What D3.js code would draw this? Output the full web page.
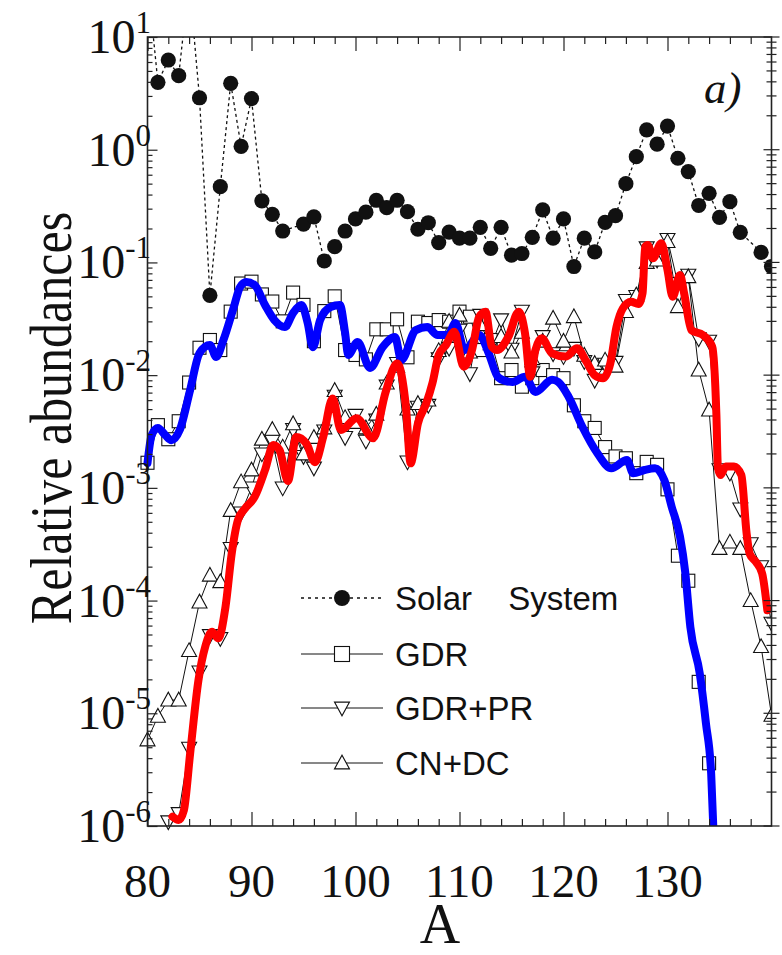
<!DOCTYPE html>
<html>
<head>
<meta charset="utf-8">
<script src="https://cdn.jsdelivr.net/npm/d3@7/dist/d3.min.js"></script>
<style>
  body { margin: 0; background: #fff; }
  svg { display: block; }
</style>
</head>
<body>
<svg id="chart" width="782" height="955"></svg>
<script>
// ---- data: relative abundances versus mass number A ----
const solarA = [80,81,82,83,84,85,86,87,88,89,90,91,92,93,95,96,97,98,99,100,101,102,103,104,105,106,107,108,109,110,111,112,113,114,115,116,117,118,119,120,121,122,123,124,125,126,127,128,129,130,131,132,133,134,135,136,137,139,140];
const solarV = [33,3.96,6.25,4.54,32,2.89,0.051,0.47,3.88,1.07,2.84,0.352,0.267,0.19,0.219,0.254,0.103,0.138,0.19,0.243,0.279,0.356,0.306,0.356,0.282,0.197,0.225,0.15,0.186,0.164,0.164,0.205,0.133,0.205,0.116,0.12,0.167,0.292,0.164,0.243,0.092,0.164,0.124,0.227,0.26,0.50,0.867,1.50,1.12,1.62,0.84,0.64,0.32,0.41,0.251,0.346,0.185,0.123,0.092];

const gdrA = [80,81,82,83,84,85,86,87,88,89,90,91,92,93,94,95,96,97,98,99,100,101,102,103,104,105,106,107,108,109,110,111,112,113,114,115,116,117,118,119,120,121,122,123,124,125,126,127,128,129,130,131,132,133,134];
const gdrV = [1.67e-3,3.6e-3,2.7e-3,3.9e-3,8.6e-3,0.0175,0.0205,0.0167,0.0366,0.065,0.0675,0.052,0.045,0.030,0.054,0.042,0.020,0.037,0.050,0.0167,0.0151,0.0138,0.0255,0.0255,0.0313,0.0144,0.0298,0.029,0.0308,0.0298,0.0366,0.033,0.0167,0.0205,0.0094,0.0111,0.0079,0.0094,0.0111,0.010,0.0094,5.4e-3,3.9e-3,3.4e-3,2.3e-3,1.9e-3,1.83e-3,1.35e-3,1.7e-3,1.6e-3,9.7e-4,2.5e-4,1.5e-4,1.9e-5,3.6e-6];

const gdrPrA = [82,83,84,85,86,87,88,89,90,91,92,93,94,95,96,97,98,99,100,101,102,103,104,105,106,107,108,109,110,111,112,113,114,115,116,117,118,119,120,121,122,123,124,125,126,127,128,129,130,131,132,133,134,135,136,137,138,139,140];
const gdrPrV = [1.09e-6,1.29e-6,4.9e-6,2.33e-5,4.9e-5,4.6e-5,2.9e-4,6.0e-4,1.0e-3,2.0e-3,2.6e-3,1.0e-3,3.3e-3,1.9e-3,1.5e-3,3.2e-3,6.5e-3,2.8e-3,4.4e-3,2.6e-3,4.0e-3,8.0e-3,0.0127,1.7e-3,5.2e-3,5.4e-3,0.014,0.0173,0.0251,0.0103,0.034,0.018,0.031,0.017,0.037,0.0105,0.022,0.0155,0.0146,0.0173,0.0132,9.0e-3,0.0125,0.013,0.046,0.050,0.135,0.105,0.16,0.065,0.077,0.021,0.02,1.45e-3,1.35e-3,6.5e-4,3.2e-4,2.0e-4,6.3e-5];

const cnDcA = [80,81,82,83,84,85,86,87,88,89,90,91,92,93,94,95,96,97,98,99,100,101,102,103,104,105,106,107,108,109,110,111,112,113,114,115,116,117,118,119,120,121,122,123,124,125,126,127,128,129,130,131,132,133,134,135,136,137,138,139,140];
const cnDcV = [5.8e-6,9.4e-6,1.31e-5,1.31e-5,3.6e-5,9.7e-5,1.68e-4,1.47e-4,6.3e-4,1.13e-3,1.44e-3,2.7e-3,3.3e-3,2.3e-3,3.7e-3,2.0e-3,2.8e-3,3.4e-3,7.3e-3,4.2e-3,3.8e-3,3.4e-3,4.5e-3,8.5e-3,0.012,5.0e-3,5.6e-3,6.0e-3,0.0165,0.030,0.034,0.016,0.028,0.019,0.022,0.016,0.024,0.014,0.020,0.032,0.020,0.033,0.015,0.0127,0.0136,0.012,0.0366,0.0514,0.10,0.105,0.153,0.0405,0.0747,0.0111,4.9e-3,2.9e-4,3.3e-4,2.9e-4,1.0e-4,3.9e-5,9.6e-6];

// smooth model curves (blue follows GDR, red follows GDR+PR)
const blueA = [80.0,80.4,81.0,81.7,82.3,83.1,84.1,85.0,86.0,86.6,87.3,88.3,88.9,89.5,90.3,91.3,92.2,93.2,94.0,94.8,95.4,95.9,96.6,97.6,98.5,99.0,99.3,100.2,101.4,102.6,103.8,104.4,105.8,106.9,107.9,108.9,109.6,110.5,111.9,112.8,113.7,114.4,115.1,116.3,117.3,118.9,119.5,120.5,121.8,123.3,124.6,126.1,126.7,127.8,128.8,129.7,130.4,131.2,131.7,132.2,133.1,133.7,134.2,134.4];
const blueV = [1.66e-3,2.94e-3,3.40e-3,2.94e-3,2.65e-3,3.26e-3,7.4e-3,0.0157,0.0185,0.0145,0.0205,0.0402,0.0605,0.067,0.063,0.0419,0.0308,0.0267,0.0356,0.0419,0.029,0.0177,0.0308,0.0402,0.0419,0.0237,0.0151,0.0197,0.0116,0.0177,0.0218,0.0136,0.0251,0.0267,0.0227,0.0227,0.029,0.0167,0.0227,0.0157,9.6e-3,8.9e-3,8.7e-3,9.7e-3,7.1e-3,9.1e-3,8.7e-3,6.4e-3,3.5e-3,2.0e-3,1.49e-3,1.77e-3,1.35e-3,1.44e-3,1.49e-3,1.17e-3,6.8e-4,3.7e-4,1.8e-4,5.8e-5,2.26e-5,8.1e-6,2.9e-6,1.0e-6];

const redA = [82.4,83.0,83.5,84.1,84.9,85.55,86.2,86.8,87.5,88.1,88.7,89.4,90.3,91.3,92.1,92.7,93.5,94.3,95.3,96.1,96.9,97.8,98.6,100.1,101.7,102.9,104.0,104.85,105.3,106.0,106.8,107.4,108.0,108.7,109.5,110.4,111.2,111.9,112.5,113.1,113.6,114.7,115.7,116.3,116.8,117.3,117.9,118.9,120.2,121.3,122.2,123.0,123.8,124.5,125.1,125.7,126.5,127.2,127.6,127.85,128.1,128.6,129.4,130.0,130.5,131.2,131.6,132.3,133.4,134.3,134.7,134.85,135.1,135.6,136.4,137.1,137.6,137.9,138.5,139.1,139.6];
const redV = [1.21e-6,1.13e-6,1.38e-6,4.4e-6,1.97e-5,3.89e-5,5.28e-5,4.62e-5,8.8e-5,2.62e-4,5.2e-4,6.6e-4,8.3e-4,1.44e-3,2.4e-3,2.16e-3,1.15e-3,2.82e-3,2.45e-3,1.69e-3,2.84e-3,6.2e-3,3.26e-3,4.14e-3,2.75e-3,7.1e-3,0.0127,5.2e-3,1.65e-3,3.73e-3,5.6e-3,8.5e-3,0.0151,0.0185,0.0243,0.0119,0.0167,0.033,0.0366,0.0179,0.0167,0.0219,0.0366,0.0235,9.7e-3,0.0167,0.0212,0.0156,0.0146,0.0173,0.0132,0.010,9.4e-3,0.0127,0.0269,0.039,0.0448,0.0428,0.0532,0.138,0.143,0.109,0.148,0.0857,0.0497,0.0773,0.0532,0.0251,0.0227,0.0179,4.5e-3,1.5e-3,1.3e-3,1.55e-3,1.55e-3,1.3e-3,4.0e-4,2.6e-4,2.2e-4,1.74e-4,8.2e-5];

const xTickLabels = [80,90,100,110,120,130];
const yTickExps = [1,0,-1,-2,-3,-4,-5,-6];
const legendLabels = ["Solar System","GDR","GDR+PR","CN+DC"];
const panelLabel = "a)";

// ---- layout ----
const L = 147.5, R = 771.5, T = 37, B = 826;
const svg = d3.select("#chart");
const x = d3.scaleLinear().domain([80,140]).range([L,R]);
const y = d3.scaleLog().domain([1e-6,1e1]).range([B,T]);
const serif = "'Liberation Serif','Times New Roman',serif";
const sans = "'Liberation Sans',Arial,Helvetica,sans-serif";
const ink = "#111";

const defs = svg.append("defs");
defs.append("clipPath").attr("id","clipLines").append("rect")
  .attr("x",L-12).attr("y",T).attr("width",R-L+12).attr("height",B-T);
defs.append("clipPath").attr("id","clipMarks").append("rect")
  .attr("x",L-20).attr("y",T).attr("width",R-L+20).attr("height",B-T+20);

const zip = (a,v) => a.map((d,i) => ({a:d, v:v[i]}));
const solar = zip(solarA, solarV), gdr = zip(gdrA, gdrV),
      gdrPr = zip(gdrPrA, gdrPrV), cnDc = zip(cnDcA, cnDcV),
      blue = zip(blueA, blueV), red = zip(redA, redV);

const line = d3.line().x(d => x(d.a)).y(d => y(d.v));
const smooth = d3.line().x(d => x(d.a)).y(d => y(d.v)).curve(d3.curveMonotoneX);

// ---- marker shapes ----
const sq = 13, tw = 15, th = 13;
const downTri = `M${-tw/2},${-th/2.2}L${tw/2},${-th/2.2}L0,${th*0.6}Z`;
const upTri = `M${-tw/2},${th/2.2}L${tw/2},${th/2.2}L0,${-th*0.6}Z`;
function drawMarkers(g, data, kind) {
  const sel = g.selectAll(null).data(data).enter();
  if (kind === "circle") {
    sel.append("circle").attr("cx", d => x(d.a)).attr("cy", d => y(d.v)).attr("r", 7.6).attr("fill", ink);
  } else if (kind === "square") {
    sel.append("rect").attr("x", d => x(d.a)-sq/2).attr("y", d => y(d.v)-sq/2)
      .attr("width", sq).attr("height", sq).attr("fill","#fff").attr("stroke",ink).attr("stroke-width",1.1);
  } else {
    sel.append("path").attr("d", kind === "down" ? downTri : upTri)
      .attr("transform", d => `translate(${x(d.a)},${y(d.v)})`)
      .attr("fill","#fff").attr("stroke",ink).attr("stroke-width",1.1);
  }
}

// ---- series ----
const lines = svg.append("g").attr("clip-path","url(#clipLines)");
const marks = svg.append("g").attr("clip-path","url(#clipMarks)");

lines.append("path").datum(solar).attr("d", line).attr("fill","none")
  .attr("stroke",ink).attr("stroke-width",1.3).attr("stroke-dasharray","3,3");
[gdr, gdrPr, cnDc].forEach(s => {
  lines.append("path").datum(s).attr("d", line).attr("fill","none").attr("stroke",ink).attr("stroke-width",1);
});
drawMarkers(marks.append("g"), solar, "circle");
drawMarkers(marks.append("g"), gdr, "square");
drawMarkers(marks.append("g"), gdrPr, "down");
drawMarkers(marks.append("g"), cnDc, "up");

const curves = svg.append("g").attr("clip-path","url(#clipLines)");
curves.append("path").datum(blue).attr("d", smooth).attr("fill","none")
  .attr("stroke","#0000ff").attr("stroke-width",8).attr("stroke-linejoin","round").attr("stroke-linecap","round");
curves.append("path").datum(red).attr("d", smooth).attr("fill","none")
  .attr("stroke","#ff0000").attr("stroke-width",8).attr("stroke-linejoin","round").attr("stroke-linecap","round");

// ---- frame and ticks ----
const xMinor = d3.range(80, 141, 2).filter(v => v % 10 !== 0);
const yMajor = yTickExps.map(e => Math.pow(10, e));
const yMinor = [];
for (let e = -6; e < 1; e++) for (let m = 2; m <= 9; m++) yMinor.push(m * Math.pow(10, e));

const axBottom = d3.axisBottom(x).tickValues(xTickLabels).tickSize(-14).tickFormat("");
const axBottomMinor = d3.axisBottom(x).tickValues(xMinor).tickSize(-7).tickFormat("");
const axTop = d3.axisTop(x).tickValues(xTickLabels).tickSize(-14).tickFormat("");
const axTopMinor = d3.axisTop(x).tickValues(xMinor).tickSize(-7).tickFormat("");
const axLeft = d3.axisLeft(y).tickValues(yMajor).tickSize(-10).tickFormat("");
const axLeftMinor = d3.axisLeft(y).tickValues(yMinor).tickSize(-5).tickFormat("");
[[axBottom,`translate(0,${B})`],[axBottomMinor,`translate(0,${B})`],[axTop,`translate(0,${T})`],[axTopMinor,`translate(0,${T})`],
 [axLeft,`translate(${L},0)`],[axLeftMinor,`translate(${L},0)`]].forEach(([ax,tr]) => {
  const g = svg.append("g").attr("transform", tr).call(ax);
  g.select(".domain").remove();
  g.selectAll(".tick line").attr("stroke","#222").attr("stroke-width",1.2);
});
// right edge: ticks cross the frame
const rightTicks = svg.append("g");
rightTicks.selectAll(null).data(yMajor).enter().append("line")
  .attr("x1", R-8).attr("x2", R+8).attr("y1", d => y(d)).attr("y2", d => y(d))
  .attr("stroke","#222").attr("stroke-width",1.2);
rightTicks.selectAll(null).data(yMinor).enter().append("line")
  .attr("x1", R-5).attr("x2", R+5).attr("y1", d => y(d)).attr("y2", d => y(d))
  .attr("stroke","#222").attr("stroke-width",1.2);

svg.append("rect").attr("x",L).attr("y",T).attr("width",R-L).attr("height",B-T)
  .attr("fill","none").attr("stroke","#222").attr("stroke-width",1.6);

// ---- tick labels ----
svg.append("g").selectAll(null).data(xTickLabels).enter().append("text")
  .attr("x", d => x(d)).attr("y", 897).attr("text-anchor","middle")
  .attr("font-family", serif).attr("font-size", 47).attr("fill", ink).text(d => d);

const yl = svg.append("g").selectAll(null).data(yTickExps).enter().append("text")
  .attr("x", 151).attr("y", d => y(Math.pow(10,d)) + 16).attr("text-anchor","end")
  .attr("font-family", serif).attr("font-size", 48).attr("fill", ink);
yl.append("tspan").text("10");
yl.append("tspan").attr("dy", -20).attr("font-size", 31).text(d => String(d));

// ---- axis titles ----
svg.append("text").attr("x", 440).attr("y", 943).attr("text-anchor","middle")
  .attr("font-family", serif).attr("font-size", 56).attr("fill", ink).text("A");
svg.append("text").attr("transform","translate(71,418) rotate(-90) scale(1,1.2)").attr("text-anchor","middle")
  .attr("font-family", serif).attr("font-size", 50).attr("fill", ink).text("Relative abundances");
svg.append("text").attr("x", 704).attr("y", 103)
  .attr("font-family", serif).attr("font-style","italic").attr("font-size", 45).attr("fill", ink).text(panelLabel);

// ---- legend ----
const legendY = [598, 654, 708, 763];
const lg = svg.append("g");
const kinds = ["circle","square","down","up"];
legendLabels.forEach((lab, i) => {
  const cy = legendY[i];
  lg.append("line").attr("x1",301).attr("x2",383).attr("y1",cy).attr("y2",cy)
    .attr("stroke",ink).attr("stroke-width", i === 0 ? 1.3 : 1)
    .attr("stroke-dasharray", i === 0 ? "3,4" : null);
  const k = kinds[i];
  if (k === "circle") lg.append("circle").attr("cx",342).attr("cy",cy).attr("r",8).attr("fill",ink);
  else if (k === "square") lg.append("rect").attr("x",342-7.5).attr("y",cy-7.5).attr("width",15).attr("height",15)
    .attr("fill","#fff").attr("stroke",ink).attr("stroke-width",1.1);
  else lg.append("path").attr("d", k === "down" ? downTri : upTri).attr("transform",`translate(342,${cy})`)
    .attr("fill","#fff").attr("stroke",ink).attr("stroke-width",1.1);
  lg.append("text").attr("x",395).attr("y",cy+12).attr("font-family",sans).attr("font-size",33)
    .attr("fill",ink).attr("word-spacing", i === 0 ? 27 : 0).text(lab);
});
</script>
</body>
</html>
